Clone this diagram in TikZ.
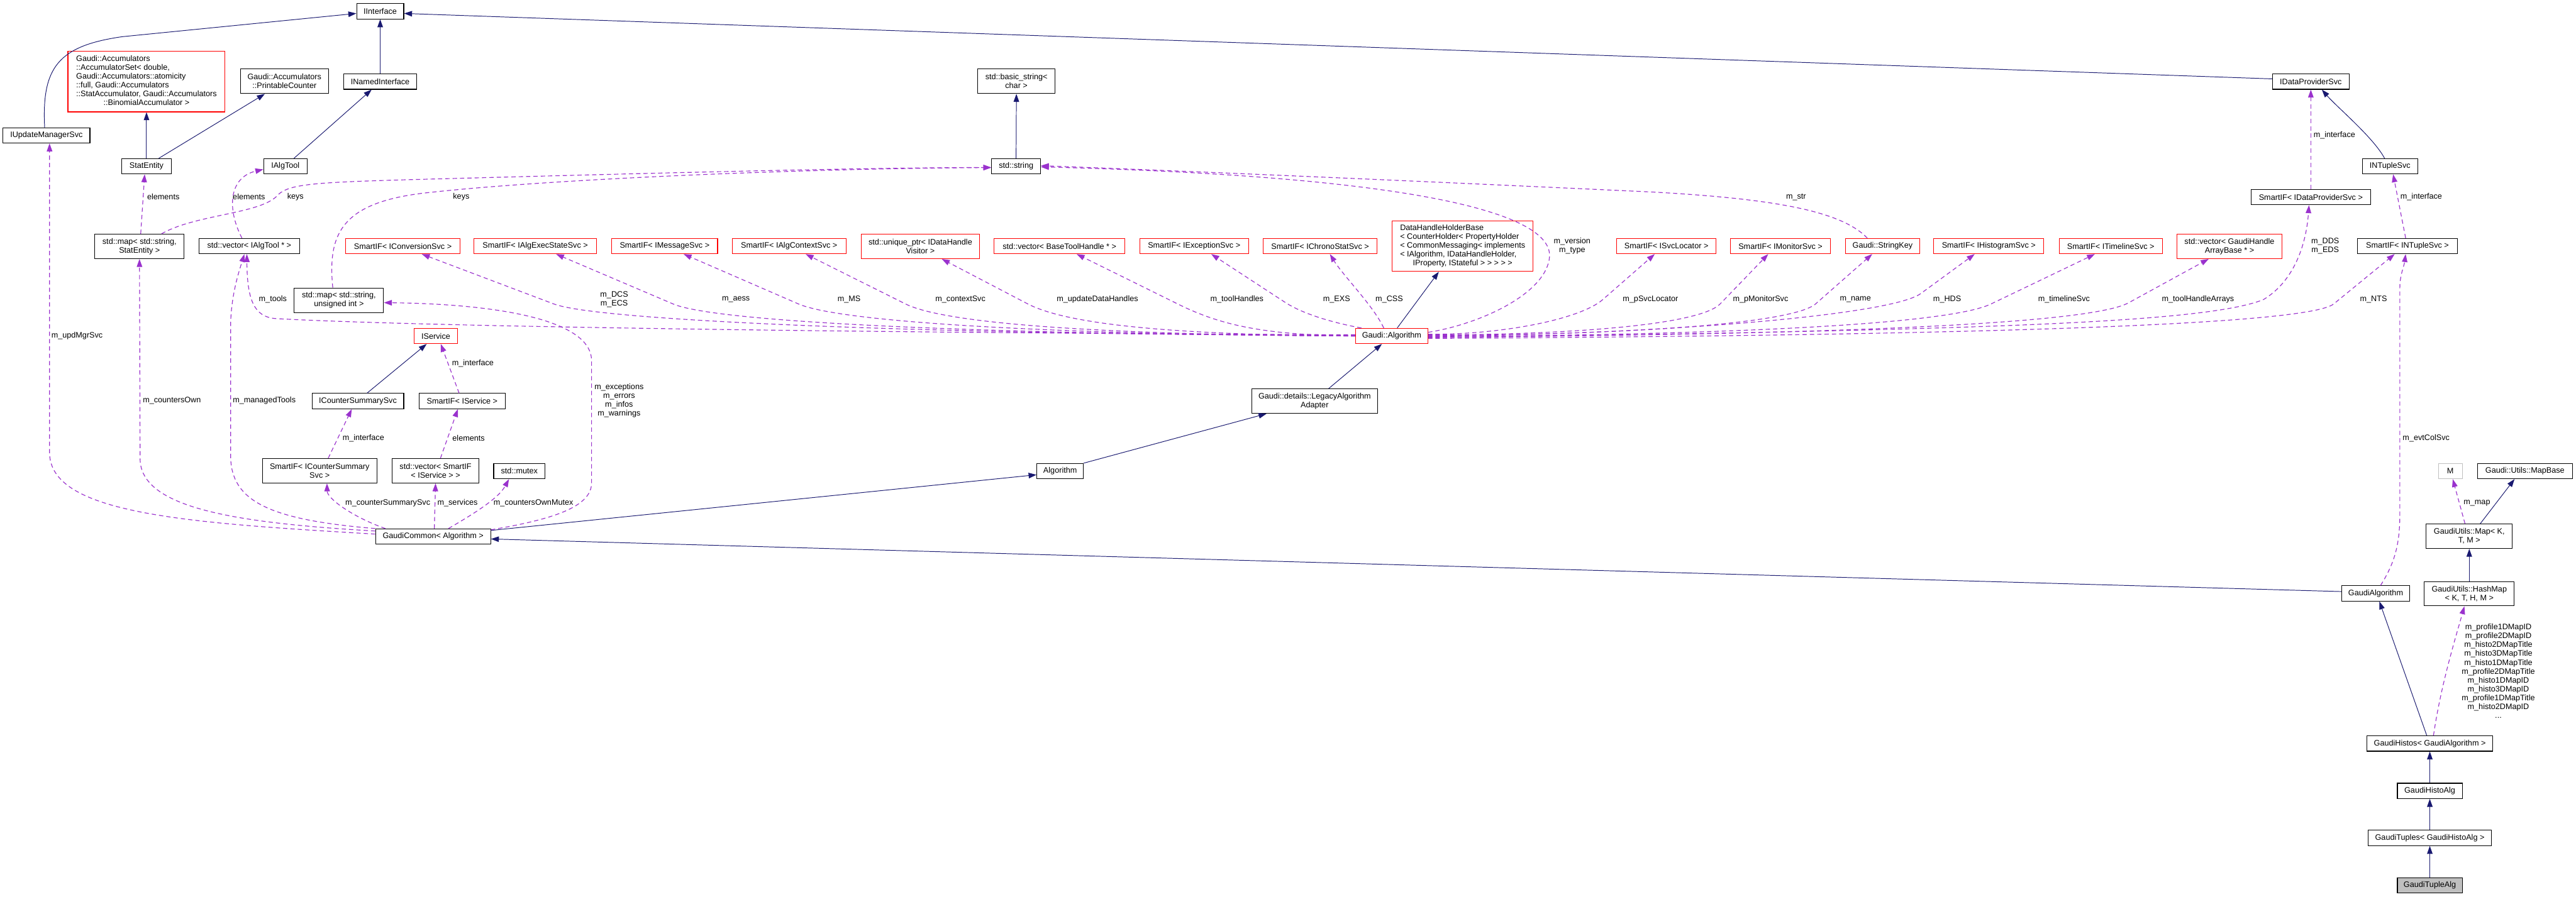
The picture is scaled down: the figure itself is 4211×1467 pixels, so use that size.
\documentclass[tikz,border=0pt]{standalone}
\usepackage{fontspec}
\setmainfont{Liberation Sans}
\usetikzlibrary{arrows.meta,calc}
\definecolor{midnight}{HTML}{191970}
\definecolor{purp}{HTML}{9A32CD}
\definecolor{boxgray}{HTML}{BFBFBF}
\newcommand\dfs{\fontsize{13}{14.5}\selectfont}
\begin{document}
\begin{tikzpicture}[x=1pt,y=-1pt,
 cls/.style={draw=black, line width=1.1pt, fill=white, inner sep=0pt, align=center, font=\dfs, minimum height=25pt},
 redcls/.style={cls, draw=red},
 lbl/.style={inner sep=0pt, align=center, font=\dfs},
 inh/.style={draw=midnight, line width=1pt, -{Triangle[length=13pt,width=9pt]}},
 use/.style={draw=purp, line width=1.2pt, dash pattern=on 7pt off 5pt, -{Triangle[length=13pt,width=9pt]}},
]
\fill[white] (0,0) rectangle (4211,1467);
\useasboundingbox (0,0) rectangle (4211,1467);

% ---------- nodes ----------
\node[cls, minimum width=77pt] (iint) at (621.5,18.5) {IInterface};
\node[redcls, minimum width=257pt, minimum height=99pt] (accset) at (239.5,133.5) {\begin{tabular}{@{}l@{}}Gaudi::Accumulators\\::AccumulatorSet< double,\\ Gaudi::Accumulators::atomicity\\::full, Gaudi::Accumulators\\::StatAccumulator, Gaudi::Accumulators\\\multicolumn{1}{@{}c@{}}{::BinomialAccumulator >}\end{tabular}};
\node[cls, minimum width=144pt, minimum height=40pt] (pcount) at (465,133) {Gaudi::Accumulators\\::PrintableCounter};
\node[cls, minimum width=119pt] (inamed) at (621.5,133.5) {INamedInterface};
\node[cls, minimum width=142pt] (iupd) at (76,221.5) {IUpdateManagerSvc};
\node[cls, minimum width=81pt] (statent) at (239.5,272) {StatEntity};
\node[cls, minimum width=71pt] (ialgtool) at (466.5,272) {IAlgTool};
\node[cls, minimum width=146pt, minimum height=40pt] (mapse) at (228,403) {std::map< std::string,\\StatEntity >};
\node[cls, minimum width=165pt] (vecalg) at (407.5,402.5) {std::vector< IAlgTool * >};
\node[redcls, minimum width=187pt] (siconv) at (658.5,402.5) {SmartIF< IConversionSvc >};
\node[redcls, minimum width=200pt] (siaess) at (875,402.5) {SmartIF< IAlgExecStateSvc >};
\node[redcls, minimum width=173pt] (simsg) at (1086.5,402.5) {SmartIF< IMessageSvc >};
\node[redcls, minimum width=186pt] (sictx) at (1290,402.5) {SmartIF< IAlgContextSvc >};
\node[redcls, minimum width=193pt, minimum height=40pt] (uptr) at (1504.5,403) {std::unique\_ptr< IDataHandle\\Visitor >};
\node[redcls, minimum width=214pt] (vecbth) at (1732,402.5) {std::vector< BaseToolHandle * >};
\node[redcls, minimum width=178pt] (siexc) at (1952,402.5) {SmartIF< IExceptionSvc >};
\node[redcls, minimum width=186pt] (sichrono) at (2158,402.5) {SmartIF< IChronoStatSvc >};
\node[redcls, minimum width=230pt, minimum height=83pt] (dhhb) at (2391,402.5) {\begin{tabular}{@{}l@{}}DataHandleHolderBase\\< CounterHolder< PropertyHolder\\< CommonMessaging< implements\\< IAlgorithm, IDataHandleHolder,\\\multicolumn{1}{@{}c@{}}{IProperty, IStateful > > > > >}\end{tabular}};
\node[redcls, minimum width=162pt] (sisvcloc) at (2724,402.5) {SmartIF< ISvcLocator >};
\node[redcls, minimum width=163pt] (simon) at (2910.5,402.5) {SmartIF< IMonitorSvc >};
\node[redcls, minimum width=121pt] (strkey) at (3077.5,402.5) {Gaudi::StringKey};
\node[redcls, minimum width=180pt] (sihist) at (3251,402.5) {SmartIF< IHistogramSvc >};
\node[redcls, minimum width=169pt] (sitime) at (3450.5,402.5) {SmartIF< ITimelineSvc >};
\node[redcls, minimum width=171pt, minimum height=40pt] (vecgh) at (3644.5,403) {std::vector< GaudiHandle\\ArrayBase * >};
\node[cls, minimum width=163pt] (sintup) at (3935.5,402.5) {SmartIF< INTupleSvc >};
\node[cls, minimum width=195pt] (sidps) at (3777.5,322.5) {SmartIF< IDataProviderSvc >};
\node[cls, minimum width=125pt] (idps) at (3777.5,133.5) {IDataProviderSvc};
\node[cls, minimum width=90pt] (intup) at (3907,272) {INTupleSvc};
\node[cls, minimum width=127pt, minimum height=40pt] (bstr) at (1661.5,133) {std::basic\_string<\\char >};
\node[cls, minimum width=80pt] (stdstr) at (1661,272) {std::string};
\node[cls, minimum width=146pt, minimum height=40pt] (mapsu) at (554,491) {std::map< std::string,\\unsigned int >};
\node[redcls, minimum width=71pt] (iservice) at (712.5,549.5) {IService};
\node[redcls, minimum width=118pt] (gaudialg) at (2275,549.5) {Gaudi::Algorithm};
\node[cls, minimum width=150pt] (icss) at (585,656) {ICounterSummarySvc};
\node[cls, minimum width=141pt] (siserv) at (755.5,656) {SmartIF< IService >};
\node[cls, minimum width=206pt, minimum height=40pt] (adapter) at (2149,656) {Gaudi::details::LegacyAlgorithm\\Adapter};
\node[cls, minimum width=187pt, minimum height=40pt] (sicss) at (522.5,770) {SmartIF< ICounterSummary\\Svc >};
\node[cls, minimum width=142pt, minimum height=40pt] (vecsis) at (712,770) {std::vector< SmartIF\\< IService > >};
\node[cls, minimum width=84pt] (mutex) at (849,770.5) {std::mutex};
\node[cls, minimum width=76pt] (algorithm) at (1733,770.5) {Algorithm};
\node[cls, draw=boxgray, minimum width=39pt] (mm) at (4005.5,770.5) {M};
\node[cls, minimum width=155pt] (mapbase) at (4127.5,770.5) {Gaudi::Utils::MapBase};
\node[cls, minimum width=188pt] (gcommon) at (708,877.5) {GaudiCommon< Algorithm >};
\node[cls, minimum width=141pt, minimum height=40pt] (umap) at (4036.5,877) {GaudiUtils::Map< K,\\T, M >};
\node[cls, minimum width=111pt] (galg) at (3883.5,970.5) {GaudiAlgorithm};
\node[cls, minimum width=147pt, minimum height=40pt] (hmap) at (4036.5,971) {GaudiUtils::HashMap\\< K, T, H, M >};
\node[cls, minimum width=206pt] (ghist) at (3972,1216) {GaudiHistos< GaudiAlgorithm >};
\node[cls, minimum width=106pt] (ghalg) at (3972,1293.5) {GaudiHistoAlg};
\node[cls, minimum width=202pt] (gtup) at (3972,1370.5) {GaudiTuples< GaudiHistoAlg >};
\node[cls, fill=boxgray, minimum width=106pt] (gtalg) at (3972,1448) {GaudiTupleAlg};

% ---------- inheritance edges ----------
\draw[inh] (inamed.north) -- (iint.south);
\draw[inh] ($(iupd.north)+(-3,0)$) .. controls (68,110) and (95,75) .. (200,60) -- ($(iint.west)+(0,3.5)$);
\draw[inh] (statent.north) -- (accset.south);
\draw[inh] ($(statent.north)+(20,0)$) -- ($(pcount.south)+(-32,0)$);
\draw[inh] ($(ialgtool.north)+(14,0)$) -- ($(inamed.south)+(-14,0)$);
\draw[inh] ($(idps.west)+(0,-4.5)$) -- ($(iint.east)+(0,3.5)$);
\draw[inh] ($(intup.north)+(-9,0)$) .. controls (3880,225) and (3820,175) .. ($(idps.south)+(18,0)$);
\draw[inh] (stdstr.north) -- (bstr.south);
\draw[inh] ($(icss.north)+(15,0)$) -- ($(iservice.south)+(-15,0)$);
\draw[inh] ($(gaudialg.north)+(9,0)$) -- ($(dhhb.south)+(-39,0)$);
\draw[inh] ($(adapter.north)+(23,0)$) -- ($(gaudialg.south)+(-16,0)$);
\draw[inh] (algorithm.north east) -- ($(adapter.south west)+(25,0)$);
\draw[inh] ($(gcommon.east)+(0,-10)$) -- ($(algorithm.west)+(0,6)$);
\draw[inh] ($(galg.west)+(0,-3)$) -- ($(gcommon.east)+(0,4)$);
\draw[inh] ($(umap.north)+(18,0)$) -- ($(mapbase.south)+(-17,0)$);
\draw[inh] (hmap.north) -- (umap.south);
\draw[inh] ($(ghist.north)+(-5,0)$) -- ($(galg.south)+(6,0)$);
\draw[inh] (ghalg.north) -- (ghist.south);
\draw[inh] (gtup.north) -- (ghalg.south);
\draw[inh] (gtalg.north) -- (gtup.south);

% ---------- usage edges ----------
\draw[use] ($(mapse.north)+(2,0)$) -- ($(statent.south)+(-3,0)$);
\draw[use] ($(vecalg.north)+(-12,0)$) .. controls (370,340) and (375,290) .. ($(ialgtool.west)+(0,5)$);
\draw[use] ($(mapse.north)+(36,0)$) .. controls (320,350) and (430,350) .. (455,318) .. controls (475,300) and (520,298) .. (700,293) .. controls (1000,285) and (1400,274) .. ($(stdstr.west)+(0,2)$);
\draw[use] ($(mapsu.north)+(-10,0)$) .. controls (535,380) and (560,330) .. (700,315) .. controls (900,293) and (1300,276) .. ($(stdstr.west)+(0,2)$);
\draw[use] ($(gcommon.west)+(0,-4)$) .. controls (300,855) and (81,840) .. (81,740) -- ($(iupd.south)+(5,0)$);
\draw[use] ($(gcommon.west)+(0,-9)$) .. controls (380,855) and (229,830) .. (229,750) -- (mapse.south);
\draw[use] (gcommon.north west) .. controls (440,850) and (377,820) .. (377,745) -- (377,530) .. controls (378,480) and (392,440) .. ($(vecalg.south)+(-8,0)$);
\draw[use] ($(gcommon.north east)+(0,2)$) .. controls (900,850) and (967,830) .. (967,790) -- (967,590) .. controls (967,520) and (800,497) .. ($(mapsu.east)+(0,4)$);
\draw[use] ($(gcommon.north)+(-78,0)$) .. controls (575,845) and (535,815) .. ($(sicss.south)+(12,0)$);
\draw[use] ($(gcommon.north)+(2,0)$) -- (vecsis.south);
\draw[use] ($(gcommon.north)+(25,0)$) .. controls (775,840) and (815,815) .. ($(mutex.south)+(-17,0)$);
\draw[use] ($(sicss.north)+(14,0)$) -- ($(icss.south)+(-10,0)$);
\draw[use] ($(vecsis.north)+(8,0)$) -- ($(siserv.south)+(-7,0)$);
\draw[use] ($(siserv.north)+(-5,0)$) -- ($(iservice.south)+(8,0)$);
% Gaudi::Algorithm, left side
\draw[use] ($(gaudialg.west)+(0,-2)$) .. controls (1500,545) and (700,535) .. (450,521) .. controls (415,518) and (404,490) .. ($(vecalg.south)+(-4,0)$);
\draw[use] ($(gaudialg.west)+(0,-1)$) .. controls (1560,548) and (980,526) .. (905,497) -- ($(siconv.south)+(31,0)$);
\draw[use] ($(gaudialg.west)+(0,-1)$) .. controls (1658,548) and (1173,529) .. (1100,497) -- ($(siaess.south)+(34,0)$);
\draw[use] (gaudialg.west) .. controls (1760,548) and (1378,529) .. (1305,497) -- ($(simsg.south)+(31,0)$);
\draw[use] (gaudialg.west) .. controls (1848,548) and (1552,533) .. (1480,497) -- ($(sictx.south)+(27,0)$);
\draw[use] (gaudialg.west) .. controls (1948,548) and (1751,534) .. (1680,497) -- ($(uptr.south)+(35,0)$);
\draw[use] (gaudialg.west) .. controls (2070,548) and (1997,533) .. (1925,497) -- ($(vecbth.south)+(28,0)$);
\draw[use] ($(gaudialg.north west)+(10,0)$) .. controls (2190,530) and (2133,516) .. (2100,494) -- ($(siexc.south)+(28,0)$);
\draw[use] ($(gaudialg.north)+(-13,0)$) .. controls (2245,500) and (2195,450) .. ($(sichrono.south)+(16,0)$);
% Gaudi::Algorithm, right side
\draw[use] ($(gaudialg.east)+(0,-6)$) .. controls (2420,530) and (2528,480) .. (2533,420) .. controls (2538,340) and (2260,287) .. ($(stdstr.east)+(0,1)$);
\draw[use] ($(strkey.north)+(-25,0)$) .. controls (3010,345) and (2900,325) .. (2700,314) .. controls (2400,300) and (2000,282) .. ($(stdstr.east)+(0,-1)$);
\draw[use] ($(gaudialg.east)+(0,-3)$) .. controls (2450,548) and (2582,523) .. (2620,490) -- ($(sisvcloc.south)+(-19,0)$);
\draw[use] ($(gaudialg.east)+(0,-2)$) .. controls (2550,548) and (2777,533) .. (2812,497) -- ($(simon.south)+(-20,0)$);
\draw[use] ($(gaudialg.east)+(0,-1)$) .. controls (2650,548) and (2930,530) .. (2968,497) -- ($(strkey.south)+(-17,0)$);
\draw[use] (gaudialg.east) .. controls (2700,548) and (3092,516) .. (3140,480) -- ($(sihist.south)+(-23,0)$);
\draw[use] ($(gaudialg.east)+(0,1)$) .. controls (2800,548) and (3183,532) .. (3255,497) -- ($(sitime.south)+(-26,0)$);
\draw[use] ($(gaudialg.east)+(0,2)$) .. controls (2900,548) and (3410,534) .. (3480,495) -- ($(vecgh.south)+(-34,0)$);
\draw[use] ($(gaudialg.east)+(0,3)$) .. controls (3200,540) and (3600,530) .. (3700,490) .. controls (3750,460) and (3770,400) .. ($(sidps.south)+(-3,0)$);
\draw[use] ($(gaudialg.east)+(0,4)$) .. controls (3300,548) and (3776,529) .. (3815,497) -- ($(sintup.south)+(-21,0)$);
\draw[use] ($(galg.north)+(8,0)$) .. controls (3915,920) and (3923,890) .. (3923,840) -- (3923,470) .. controls (3923,450) and (3930,435) .. ($(sintup.south)+(-3,0)$);
\draw[use] (sidps.north) -- (idps.south);
\draw[use] ($(sintup.north)+(-3,0)$) -- ($(intup.south)+(5,0)$);
\draw[use] ($(umap.north)+(-7,0)$) -- ($(mm.south)+(4,0)$);
\draw[use] ($(ghist.north)+(6,0)$) .. controls (3990,1120) and (4015,1040) .. ($(hmap.south)+(-8,0)$);

% ---------- labels ----------
\node[lbl] (la1) at (267,322) {elements};
\node[lbl] (la2) at (407,322) {elements};
\node[lbl] (la3) at (483,322) {keys};
\node[lbl] (la4) at (754,322) {keys};
\node[lbl] (la5) at (446,490) {m\_tools};
\node[lbl] (la6) at (1004,489.5) {m\_DCS\\m\_ECS};
\node[lbl] (la7) at (1203,490) {m\_aess};
\node[lbl] (la8) at (1388,490) {m\_MS};
\node[lbl] (la9) at (1570,490) {m\_contextSvc};
\node[lbl] (la10) at (1794,490) {m\_updateDataHandles};
\node[lbl] (la11) at (2022,490) {m\_toolHandles};
\node[lbl] (la12) at (2185,490) {m\_EXS};
\node[lbl] (la13) at (2271,490) {m\_CSS};
\node[lbl] (la14) at (2570,402) {m\_version\\m\_type};
\node[lbl] (la15) at (2698,490) {m\_pSvcLocator};
\node[lbl] (la16) at (2878,490) {m\_pMonitorSvc};
\node[lbl] (la17) at (3033,490) {m\_name};
\node[lbl] (la18) at (2936,322) {m\_str};
\node[lbl] (la19) at (3183,490) {m\_HDS};
\node[lbl] (la20) at (3374,490) {m\_timelineSvc};
\node[lbl] (la21) at (3593,490) {m\_toolHandleArrays};
\node[lbl] (la22) at (3801,402) {m\_DDS\\m\_EDS};
\node[lbl] (la23) at (3880,490) {m\_NTS};
\node[lbl] (la24) at (3816,221) {m\_interface};
\node[lbl] (la25) at (3958,322) {m\_interface};
\node[lbl] (la26) at (3966,717) {m\_evtColSvc};
\node[lbl] (la27) at (126,549) {m\_updMgrSvc};
\node[lbl] (la28) at (281,655) {m\_countersOwn};
\node[lbl] (la29) at (432,655) {m\_managedTools};
\node[lbl] (la30) at (1012,655) {m\_exceptions\\m\_errors\\m\_infos\\m\_warnings};
\node[lbl] (la31) at (773,594) {m\_interface};
\node[lbl] (la32) at (594,717) {m\_interface};
\node[lbl] (la33) at (766,717) {elements};
\node[lbl] (la34) at (634,823) {m\_counterSummarySvc};
\node[lbl] (la35) at (748,823) {m\_services};
\node[lbl] (la36) at (872,823) {m\_countersOwnMutex};
\node[lbl] (la37) at (4049,823) {m\_map};
\node[lbl] (la38) at (4084,1097.5) {m\_profile1DMapID\\m\_profile2DMapID\\m\_histo2DMapTitle\\m\_histo3DMapTitle\\m\_histo1DMapTitle\\m\_profile2DMapTitle\\m\_histo1DMapID\\m\_histo3DMapID\\m\_profile1DMapTitle\\m\_histo2DMapID\\...};
\end{tikzpicture}
\end{document}
